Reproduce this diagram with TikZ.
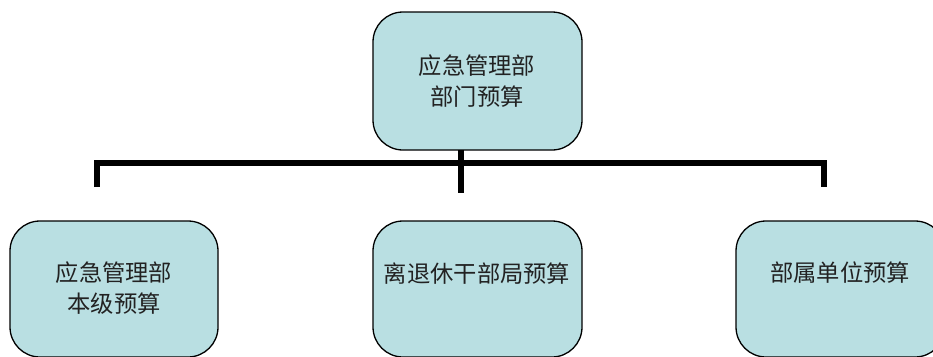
\documentclass[tikz,border=0pt]{standalone}
\usepackage{fontspec}
\newfontfamily\cjk{Noto Sans CJK SC}
\definecolor{boxfill}{HTML}{B9DFE2}
\definecolor{txt}{HTML}{222222}
\begin{document}
\begin{tikzpicture}[x=1pt,y=-1pt,
  orgbox/.style={draw=black,line width=1.3pt,fill=boxfill,rounded corners=30pt,
    minimum width=209pt,inner sep=0pt,outer sep=0pt},
  lbl/.style={text=txt,font=\cjk\fontsize{23.3}{31}\selectfont,align=center,inner sep=0pt},
  conn/.style={line width=6pt,line join=miter,line cap=butt}]
\useasboundingbox (0,0) rectangle (933,356);
\clip (0,0) rectangle (933,356);
% connectors
\coordinate (lEnd) at (97,187);
\coordinate (lCorner) at (97,163);
\coordinate (rCorner) at (824,163);
\coordinate (rEnd) at (824,187);
\coordinate (stemEnd) at (461,193);
\node[orgbox,minimum height=138pt] (top) at (477.5,81) {};
\node[orgbox,minimum width=208pt,minimum height=136pt] (left) at (114,289) {};
\node[orgbox,minimum height=136pt] (mid) at (477.5,289) {};
\node[orgbox,minimum height=136pt] (right) at (840.5,289) {};
\draw[conn] (lEnd) -- (lCorner) -- (rCorner) -- (rEnd);
\draw[conn] (top.south -| stemEnd) -- (stemEnd);
% labels
\node[lbl] (topL) at (477,81) {应急管理部\\部门预算};
\node[lbl] (leftL) at (114,288) {应急管理部\\本级预算};
\node[lbl] (midL) at (477,274) {离退休干部局预算};
\node[lbl] (rightL) at (840,273) {部属单位预算};
\end{tikzpicture}
\end{document}
